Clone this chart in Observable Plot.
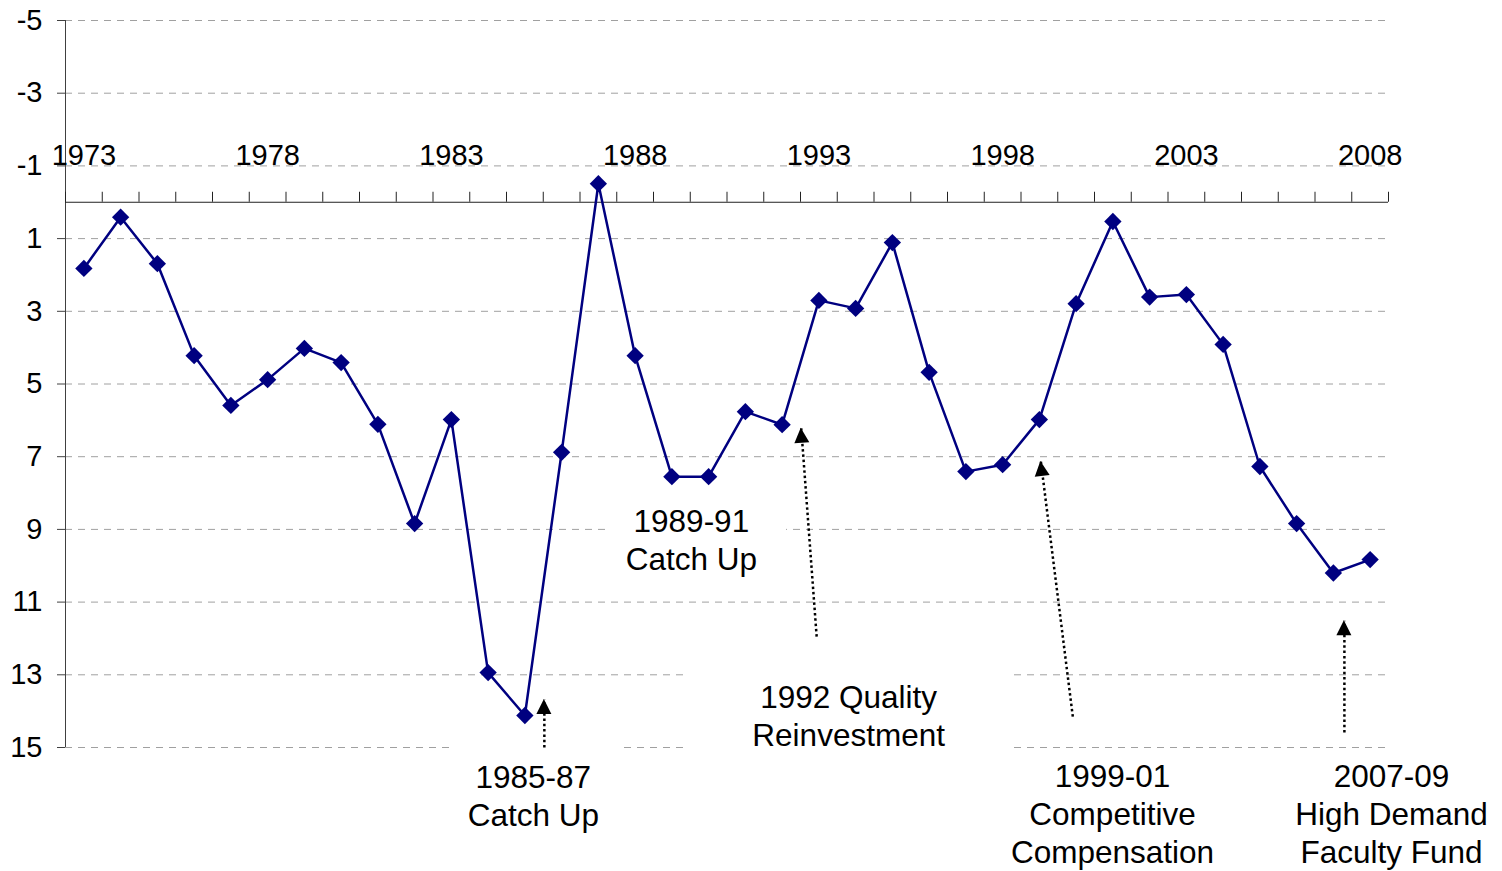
<!DOCTYPE html>
<html><head><meta charset="utf-8">
<script src="https://cdn.jsdelivr.net/npm/d3@7"></script>
<script src="https://cdn.jsdelivr.net/npm/@observablehq/plot@0.6"></script>
<style>html,body{margin:0;padding:0;background:#fff;overflow:hidden} svg{display:block}</style>
</head><body><div id="chart"></div>
<script>
const years = [1973,1974,1975,1976,1977,1978,1979,1980,1981,1982,1983,1984,1985,1986,1987,1988,1989,1990,
  1991,1992,1993,1994,1995,1996,1997,1998,1999,2000,2001,2002,2003,2004,2005,2006,2007,2008];
const values = [1.82,0.41,1.69,4.22,5.59,4.88,4.02,4.41,6.11,8.84,5.98,12.94,14.12,6.88,-0.51,4.22,7.55,7.55,
  5.76,6.12,2.70,2.92,1.11,4.68,7.41,7.22,5.98,2.79,0.53,2.61,2.54,3.91,7.27,8.84,10.20,9.83];
const yTicks = [-5,-3,-1,1,3,5,7,9,11,13,15];
const yearLabels = [1973,1978,1983,1988,1993,1998,2003,2008];

const notes = [
  {text: "1985-87\nCatch Up", x: 1985.23, y: 16.29},
  {text: "1989-91\nCatch Up", x: 1989.53, y: 9.25},
  {text: "1992 Quality\nReinvestment", x: 1993.81, y: 14.09},
  {text: "1999-01\nCompetitive\nCompensation", x: 2000.99, y: 16.81},
  {text: "2007-09\nHigh Demand\nFaculty Fund", x: 2008.58, y: 16.81}
];
const noteBoxes = [
  {x1: 1983.03, x2: 1987.71, y1: 14.6, y2: 17.6},
  {x1: 1987.28, x2: 1992.12, y1: 8.2, y2: 10.4},
  {x1: 1989.45, x2: 1998.16, y1: 12.2, y2: 15.5}
];
const arrows = [
  {x1: 1985.53, y1: 15.0, x2: 1985.53, y2: 13.68},
  {x1: 1992.94, y1: 11.95, x2: 1992.52, y2: 6.22},
  {x1: 1999.91, y1: 14.15, x2: 1999.04, y2: 7.13},
  {x1: 2007.30, y1: 14.59, x2: 2007.30, y2: 11.51}
];

const data = years.map((year, i) => ({year, value: values[i]}));
const bandEdges = years.map(y => y - 0.5).concat([years[years.length - 1] + 0.5]);

function arrowHeads(index, scales) {
  const g = d3.create("svg:g");
  for (const a of arrows) {
    const x1 = scales.x(a.x1), y1 = scales.y(a.y1), x2 = scales.x(a.x2), y2 = scales.y(a.y2);
    const dx = x2 - x1, dy = y2 - y1, L = Math.hypot(dx, dy);
    const ux = dx / L, uy = dy / L, len = 15, half = 7.5;
    const bx = x2 - ux * len, by = y2 - uy * len;
    g.append("path")
      .attr("d", `M${x2},${y2}L${bx - uy * half},${by + ux * half}L${bx + uy * half},${by - ux * half}Z`)
      .attr("fill", "black");
  }
  return g.node();
}

const chart = Plot.plot({
  width: 1502, height: 871,
  marginLeft: 65, marginRight: 114, marginTop: 20, marginBottom: 124,
  style: {fontFamily: "'Liberation Sans', Arial, sans-serif", background: "white", color: "black", overflow: "visible"},
  x: {type: "linear", domain: [1972.5, 2008.5], axis: null},
  y: {domain: [-5, 15], reverse: true, axis: null, label: null},
  marks: [
    Plot.ruleY(yTicks, {stroke: "#a0a0a0", strokeDasharray: "7,6", strokeWidth: 1}),
    Plot.rect(noteBoxes, {x1: "x1", x2: "x2", y1: "y1", y2: "y2", fill: "white"}),
    Plot.ruleX([1972.5], {y1: -5, y2: 15, stroke: "#404040"}),
    Plot.axisY(yTicks, {anchor: "left", tickSize: 8, tickPadding: 15, fontSize: 29, label: null,
      tickFormat: d => String(d), stroke: "#404040", fill: "black"}),
    Plot.ruleY([0], {stroke: "#222"}),
    Plot.ruleX(bandEdges, {y1: 0, y2: 0, insetTop: -10, stroke: "#222"}),
    Plot.text(yearLabels, {x: d => d, y: 0, dy: -47, text: d => String(d), fontSize: 29, fill: "black"}),
    Plot.line(data, {x: "year", y: "value", stroke: "#000080", strokeWidth: 2.5}),
    Plot.dot(data, {x: "year", y: "value", symbol: "diamond2", r: 7.8, fill: "#000080", stroke: "none"}),
    Plot.link(arrows, {x1: "x1", y1: "y1", x2: "x2", y2: "y2", stroke: "black", strokeWidth: 2.5, strokeDasharray: "2.5,2.8"}),
    arrowHeads,
    Plot.text(notes, {x: "x", y: "y", text: "text", fontSize: 31.5, lineHeight: 1.206, lineAnchor: "middle", fill: "black"})
  ]
});
document.getElementById("chart").appendChild(chart);
</script>
</body></html>
